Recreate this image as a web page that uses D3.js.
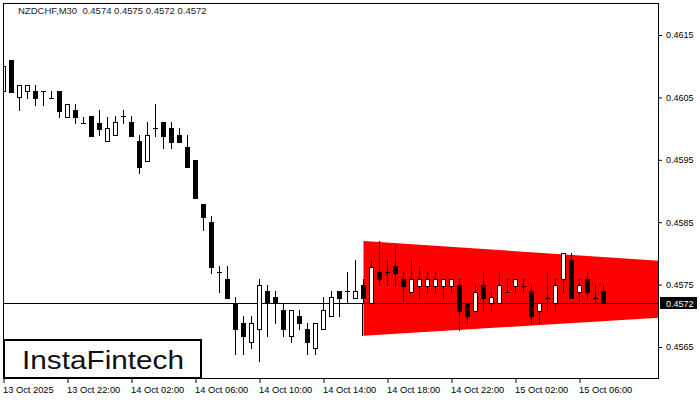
<!DOCTYPE html>
<html><head><meta charset="utf-8">
<script src="https://cdn.jsdelivr.net/npm/d3@7/dist/d3.min.js"></script>
<style>
html,body{margin:0;padding:0;background:#fff;}
svg{display:block;}
text{font-family:"Liberation Sans",Arial,sans-serif;}
</style></head>
<body>
<svg id="c" width="700" height="400"></svg>
<script>
// ---- data ----
const symbolTitle = "NZDCHF,M30  0.4574 0.4575 0.4572 0.4572";
const opens  = [0.4606,0.4611,0.46051,0.4606,0.4606,0.4606,0.46049,0.4606,0.46019,0.4603,
  0.46009,0.4602,0.46009,0.4598,0.4599,0.4602,0.46011,0.4598,0.45948,0.46001,
  0.46011,0.46001,0.4599,0.45971,0.4595,0.45879,0.4585,0.4577,0.45759,0.4572,
  0.45689,0.45658,0.45679,0.4574,0.4573,0.45709,0.45668,0.45699,0.45679,0.45648,
  0.45679,0.45699,0.4574,0.4574,0.45729,0.4575,0.4572,0.4577,0.4577,0.4578,
  0.45759,0.45738,0.45748,0.45748,0.45748,0.45748,0.45748,0.4575,0.4572,0.45708,
  0.4575,0.4572,0.4572,0.45738,0.45748,0.45748,0.4574,0.45708,0.45729,0.4572,
  0.45759,0.45789,0.45738,0.45759,0.45729,0.4574];
const highs  = [0.4610,0.4611,0.4607,0.4607,0.4607,0.4606,0.4606,0.4606,0.46039,0.46039,
  0.46019,0.4602,0.4603,0.46019,0.4602,0.4603,0.4602,0.4599,0.46011,0.46039,
  0.46011,0.46011,0.46001,0.4599,0.4595,0.45879,0.4586,0.4578,0.4578,0.4573,
  0.45699,0.45699,0.45759,0.4575,0.4574,0.4572,0.45709,0.45709,0.45689,0.45689,
  0.4573,0.4574,0.4574,0.4577,0.45789,0.45759,0.45789,0.4582,0.45789,0.4581,
  0.4577,0.45789,0.4578,0.4577,0.4577,0.45759,0.45759,0.45759,0.4572,0.4575,
  0.4577,0.45738,0.4577,0.45759,0.45759,0.45759,0.4575,0.4572,0.4577,0.45759,
  0.45801,0.45801,0.45759,0.4577,0.4575,0.4575];
const lows   = [0.46041,0.46059,0.4603,0.46049,0.46038,0.46038,0.46049,0.46019,0.46019,0.46009,
  0.46009,0.45988,0.4599,0.4598,0.4599,0.46009,0.45988,0.45929,0.45948,0.45988,
  0.45969,0.45969,0.45979,0.45938,0.45889,0.45838,0.45769,0.45738,0.45729,0.45638,
  0.45638,0.45648,0.45628,0.45668,0.45689,0.45668,0.45658,0.45679,0.45638,0.45638,
  0.45679,0.45699,0.45699,0.4572,0.45729,0.4572,0.4572,0.4575,0.4575,0.45748,
  0.4572,0.45738,0.45729,0.45738,0.45738,0.45729,0.45738,0.45677,0.45689,0.45708,
  0.45708,0.45708,0.4572,0.45738,0.45738,0.45738,0.45689,0.45689,0.45708,0.45708,
  0.45738,0.45729,0.4572,0.45729,0.4572,0.4572];
const closes = [0.4610,0.46059,0.4607,0.4607,0.46049,0.4606,0.46049,0.46028,0.46039,0.46019,
  0.46009,0.45988,0.45999,0.46001,0.46011,0.4602,0.45988,0.45938,0.4599,0.46001,
  0.45988,0.45979,0.45979,0.45938,0.45889,0.45858,0.45778,0.4577,0.45729,0.45679,
  0.45668,0.45689,0.4575,0.4572,0.4572,0.45679,0.45709,0.45689,0.45658,0.45689,
  0.45709,0.4573,0.45729,0.4574,0.4574,0.45729,0.45778,0.45759,0.4577,0.45769,
  0.45748,0.45759,0.45759,0.45759,0.45759,0.45759,0.45759,0.45708,0.45699,0.45738,
  0.45729,0.4573,0.4575,0.45738,0.45759,0.45748,0.45699,0.4572,0.45729,0.4575,
  0.45801,0.45729,0.4575,0.45738,0.45729,0.4572];
// triangle pattern (bar index, upper bound, lower bound)
const triIndex = [45, 82];
const triUpper = [0.4582, 0.45788];
const triLower = [0.45668, 0.45697];
const lastPrice = 0.4572;
const yTicks = [0.4565, 0.4575, 0.4585, 0.4595, 0.4605, 0.4615];
const xTickIndex = [0, 8, 16, 24, 32, 40, 48, 56, 64, 72];
const xTickLabels = ["13 Oct 2025","13 Oct 22:00","14 Oct 02:00","14 Oct 06:00","14 Oct 10:00",
  "14 Oct 14:00","14 Oct 18:00","14 Oct 22:00","15 Oct 02:00","15 Oct 06:00"];
const brand = "InstaFintech";

// ---- layout ----
const L = 3, T = 3, R = 659, B = 379;
const svg = d3.select("#c");
svg.append("rect").attr("width",700).attr("height",400).attr("fill","#fff");

const x = d3.scaleLinear().domain([0, 82]).range([3.5, 659.5]);
const y = d3.scaleLinear().domain([0.4565, 0.4615]).range([347, 35]);
const sy = v => Math.round(y(v));

svg.append("defs").append("clipPath").attr("id","clip")
  .append("rect").attr("x",L).attr("y",T).attr("width",R-L).attr("height",B-T);
const plot = svg.append("g").attr("clip-path","url(#clip)");

// triangle
const tri = [
  [x(triIndex[0]), y(triUpper[0])],
  [x(triIndex[1]), y(triUpper[1])],
  [x(triIndex[1]), y(triLower[1])],
  [x(triIndex[0]), y(triLower[0])]
];
plot.append("path").attr("d", d3.line()(tri) + "Z").attr("fill","#ff0000");

// last price line
const yl = sy(lastPrice) + 0.5;
plot.append("line").attr("x1",L).attr("x2",R).attr("y1",yl).attr("y2",yl)
  .attr("stroke","#000").attr("stroke-width",1);
const vx = Math.floor(x(triIndex[0])) - 0.5;
plot.append("line").attr("x1",vx).attr("x2",vx)
  .attr("y1",yl).attr("y2",sy(triLower[0]))
  .attr("stroke","#000").attr("stroke-width",1);

// candles
const bars = opens.map((o,i)=>({i, o, h:highs[i], l:lows[i], c:closes[i]}));
const cg = plot.append("g").selectAll("g").data(bars).join("g");
cg.each(function(d){
  const g = d3.select(this);
  const cx = Math.floor(x(d.i)) + 0.5;
  g.append("line").attr("x1",cx).attr("x2",cx)
    .attr("y1",sy(d.h)).attr("y2",sy(d.l)+1)
    .attr("stroke","#000").attr("stroke-width",1);
  const top = sy(Math.max(d.o,d.c)), bot = sy(Math.min(d.o,d.c));
  if (bot - top < 1) {
    g.append("line").attr("x1",cx-2.5).attr("x2",cx+2.5)
      .attr("y1",top+0.5).attr("y2",top+0.5)
      .attr("stroke","#000").attr("stroke-width",1);
  } else {
    g.append("rect").attr("x",cx-2).attr("y",top+0.5).attr("width",4).attr("height",bot-top)
      .attr("fill", d.c >= d.o ? "#fff" : "#000").attr("stroke","#000").attr("stroke-width",1);
  }
});

// frame
svg.append("rect").attr("x",L+0.5).attr("y",T+0.5).attr("width",R-L-1).attr("height",B-T-1)
  .attr("fill","none").attr("stroke","#000").attr("stroke-width",1);

// y axis
const ya = svg.append("g").attr("transform",`translate(${R},0)`)
  .call(d3.axisRight(y).tickValues(yTicks).tickSize(3).tickPadding(4).tickFormat(d3.format(".4f")));
ya.select(".domain").remove();
ya.selectAll("text").attr("font-size",9).attr("font-family","'Liberation Sans',Arial,sans-serif").attr("fill","#000");
ya.selectAll("line").attr("stroke","#000");

// current price tag
svg.append("rect").attr("x",660).attr("y",yl-6.5).attr("width",37).attr("height",12).attr("fill","#000");
svg.append("text").attr("x",666).attr("y",yl+3.5).attr("fill","#fff").attr("font-size",9)
  .text(d3.format(".4f")(lastPrice));

// x axis
const xa = svg.append("g").attr("transform",`translate(0,${B})`)
  .call(d3.axisBottom(x).tickValues(xTickIndex).tickSize(4).tickPadding(3)
    .tickFormat((d,i)=>xTickLabels[i]));
xa.select(".domain").remove();
xa.selectAll("line").attr("stroke","#000");
xa.selectAll("text").attr("text-anchor","start").attr("dx",-1).attr("font-size",9.3)
  .attr("font-family","'Liberation Sans',Arial,sans-serif").attr("fill","#000");

// title
svg.append("text").attr("x",18).attr("y",14).attr("font-size",9.5).attr("fill","#1a1a2a")
  .attr("xml:space","preserve").style("white-space","pre").text(symbolTitle);

// brand box
svg.append("rect").attr("x",4).attr("y",340).attr("width",197).attr("height",38)
  .attr("fill","#fff").attr("stroke","#000").attr("stroke-width",2);
svg.append("text").attr("x",22).attr("y",369).attr("font-size",25)
  .attr("font-family","Inter, 'Open Sans', sans-serif").attr("font-weight",400)
  .attr("textLength",162).attr("lengthAdjust","spacingAndGlyphs")
  .attr("fill","#111").text(brand);
</script>
</body></html>
